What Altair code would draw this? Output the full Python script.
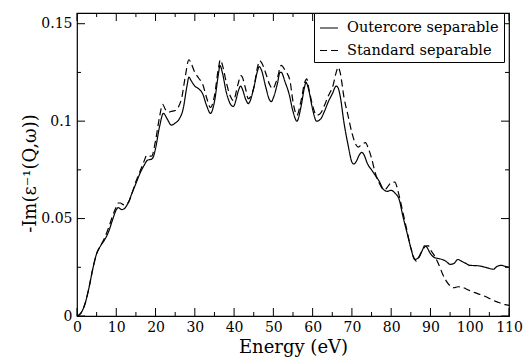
import altair as alt
import pandas as pd

# ---- data ----
energy_oc = [0, 1, 2, 3, 4, 5, 6, 7, 8, 9, 10, 10.5, 11.4, 12, 13, 14, 15, 16, 17, 18, 19, 19.5, 20,
             21, 22, 23, 24, 25, 26, 27, 28, 28.5, 29, 30, 31, 32, 33, 34, 35, 36, 36.4, 37, 38, 39,
             39.8, 40.5, 41, 41.7, 42, 43, 43.6, 44, 45, 46, 46.4, 47, 48, 49, 49.5, 50, 51, 51.7, 52,
             53, 54, 55, 56, 57, 58, 58.3, 59, 60, 61, 62, 63, 64, 65, 66, 66.5, 67, 68, 69, 70, 70.5,
             71, 72, 72.5, 73, 74, 75, 76, 77, 78, 79, 80, 81, 82, 83, 84, 85, 86, 87, 88, 88.5, 89,
             90, 91, 92, 93, 94, 95, 96, 97, 98, 99, 100, 102, 104, 106, 107, 108, 109, 110]
im_oc = [0, 0.0015, 0.006, 0.014, 0.024, 0.032, 0.036, 0.039, 0.043, 0.049, 0.0545, 0.0556, 0.0546,
         0.055, 0.058, 0.063, 0.068, 0.073, 0.077, 0.080, 0.0805, 0.082, 0.086,
         0.097, 0.104, 0.101, 0.098, 0.099, 0.101, 0.106, 0.118, 0.1226, 0.121, 0.118, 0.1166, 0.114,
         0.108, 0.104, 0.110, 0.124, 0.1286, 0.125, 0.115, 0.109,
         0.1075, 0.111, 0.115, 0.118, 0.117, 0.111, 0.109, 0.110, 0.117, 0.126, 0.128, 0.126, 0.118,
         0.111, 0.110, 0.112, 0.119, 0.125, 0.125,
         0.120, 0.114, 0.105, 0.100, 0.107, 0.118, 0.120, 0.116, 0.106, 0.100, 0.101, 0.105, 0.110,
         0.114, 0.118, 0.117, 0.113, 0.099, 0.088, 0.079, 0.078,
         0.079, 0.083, 0.084, 0.083, 0.078, 0.075, 0.072, 0.069, 0.065, 0.064, 0.0645, 0.063, 0.060,
         0.051, 0.043, 0.035, 0.029, 0.030, 0.034, 0.036, 0.0355,
         0.032, 0.030, 0.0295, 0.029, 0.028, 0.0265, 0.027, 0.029, 0.028, 0.027, 0.026, 0.0258, 0.025,
         0.024, 0.0255, 0.026, 0.0255, 0.025]

energy_std = [0, 1, 2, 3, 4, 5, 6, 7, 8, 9, 10, 10.5, 11, 12, 13, 14, 15, 16, 17, 17.8, 18.5, 19, 20,
              21, 21.8, 22.5, 23.2, 24, 25, 26, 26.7, 27.5, 28.5, 29, 30, 31, 32, 33, 34, 35, 36, 36.5,
              37, 38, 39, 39.8, 41, 41.7, 42, 43, 43.6, 44, 45, 46, 46.5, 47, 48, 49, 49.8, 51, 52, 53,
              54.2, 55, 56, 57, 58, 58.5, 59, 60, 61, 62, 63, 64, 64.5, 65, 66, 66.5, 67, 68, 69, 70,
              71, 71.6, 72.5, 73.5, 74, 75, 76, 77, 78, 78.5, 79, 80, 80.9, 82, 83, 84, 85, 86, 86.5,
              87, 88, 89, 89.5, 90, 91, 92, 93, 94, 95, 96, 97, 98, 99, 100, 102, 104, 106, 108, 109, 110]
im_std = [0, 0.0015, 0.006, 0.014, 0.024, 0.032, 0.036, 0.040, 0.045, 0.051, 0.056, 0.058, 0.058, 0.057,
          0.058, 0.063, 0.069, 0.074, 0.079, 0.0825, 0.082, 0.082, 0.090,
          0.102, 0.1086, 0.106, 0.1046, 0.105, 0.1055, 0.108, 0.1123, 0.122, 0.1315, 0.130, 0.125,
          0.122, 0.119, 0.112, 0.107, 0.113, 0.127, 0.1315,
          0.129, 0.120, 0.113, 0.1106, 0.119, 0.1234, 0.123, 0.116, 0.1115, 0.112, 0.117, 0.128, 0.131,
          0.130, 0.125, 0.119, 0.1166, 0.122, 0.1286, 0.126,
          0.121, 0.110, 0.103, 0.110, 0.120, 0.1217, 0.117, 0.108, 0.103, 0.104, 0.108, 0.113, 0.115,
          0.117, 0.125, 0.1277, 0.125, 0.112, 0.103, 0.094,
          0.088, 0.0867, 0.088, 0.089, 0.087, 0.081, 0.073, 0.068, 0.065, 0.065, 0.066, 0.0685, 0.0687,
          0.062, 0.053, 0.044, 0.035, 0.029, 0.028,
          0.030, 0.034, 0.036, 0.036, 0.034, 0.031, 0.027, 0.022, 0.018, 0.0155, 0.0145, 0.015, 0.0148,
          0.014, 0.013, 0.0115, 0.010, 0.008, 0.0065, 0.0058, 0.0055]

series_names = ["Outercore separable", "Standard separable"]

x_major = [0, 10, 20, 30, 40, 50, 60, 70, 80, 90, 100, 110]
x_minor = [5, 15, 25, 35, 45, 55, 65, 75, 85, 95, 105]
y_major = [0, 0.05, 0.1, 0.15]
y_minor = [0.025, 0.075, 0.125]

W, H = 432, 303
FONT = "DejaVu Serif"

df = pd.concat([
    pd.DataFrame({"energy": energy_oc, "im": im_oc, "series": series_names[0]}),
    pd.DataFrame({"energy": energy_std, "im": im_std, "series": series_names[1]}),
])

xs = alt.Scale(domain=[0, 110], nice=False, zero=False)
ys = alt.Scale(domain=[0, 0.1555], nice=False, zero=False)

lines = alt.Chart(df).mark_line(color="black", strokeWidth=1.2, interpolate="monotone").encode(
    x=alt.X("energy:Q", scale=xs, title="Energy (eV)",
            axis=alt.Axis(values=x_major, ticks=False, domain=False, grid=False,
                          labelFontSize=14, labelPadding=4, labelFont=FONT, labelColor="black",
                          titleFont=FONT, titleFontSize=18, titleFontWeight="normal",
                          titleColor="black", titleY=31, titleBaseline="middle", labelFlush=False)),
    y=alt.Y("im:Q", scale=ys, title="-Im(ε⁻¹(Q,ω))",
            axis=alt.Axis(values=y_major, ticks=False, domain=False, grid=False,
                          labelExpr="datum.value == 0 ? '0' : format(datum.value, '.2~f')",
                          labelFontSize=14, labelPadding=5, labelFont=FONT, labelColor="black",
                          titleFont=FONT, titleFontSize=18, titleFontWeight="normal",
                          titleColor="black",
                          titleX=-47, titleY=160, titleAngle=-90, titleAlign="center",
                          titleBaseline="middle", labelFlush=False)),
    strokeDash=alt.StrokeDash("series:N",
                              scale=alt.Scale(domain=series_names, range=[[1, 0], [7, 4]]),
                              legend=alt.Legend(title=None, orient="none", legendX=237, legendY=0,
                                                symbolType="stroke", symbolSize=324,
                                                symbolStrokeWidth=1.2, symbolStrokeColor="black",
                                                labelFont=FONT, labelFontSize=14.5, labelOffset=8,
                                                labelColor="black",
                                                labelLimit=400, padding=5, rowPadding=5.5,
                                                strokeColor="black", fillColor="white")),
)

maj_len, min_len = 8, 4

def xticks(vals, length):
    d = pd.DataFrame({"energy": vals})
    bottom = alt.Chart(d).mark_rule(color="black", strokeWidth=1).encode(
        x=alt.X("energy:Q", scale=xs, axis=None), y=alt.value(H), y2=alt.value(H - length))
    top = alt.Chart(d).mark_rule(color="black", strokeWidth=1).encode(
        x=alt.X("energy:Q", scale=xs, axis=None), y=alt.value(0), y2=alt.value(length))
    return [bottom, top]

def yticks(vals, length):
    d = pd.DataFrame({"im": vals})
    left = alt.Chart(d).mark_rule(color="black", strokeWidth=1).encode(
        y=alt.Y("im:Q", scale=ys, axis=None), x=alt.value(0), x2=alt.value(length))
    right = alt.Chart(d).mark_rule(color="black", strokeWidth=1).encode(
        y=alt.Y("im:Q", scale=ys, axis=None), x=alt.value(W), x2=alt.value(W - length))
    return [left, right]

layers = [lines] + xticks(x_major, maj_len) + xticks(x_minor, min_len) + \
    yticks(y_major, maj_len) + yticks(y_minor, min_len)

chart = alt.layer(*layers).resolve_axis(x="independent", y="independent").properties(
    width=W, height=H,
    autosize=alt.AutoSizeParams(type="none"),
    padding={"left": 77, "top": 13, "right": 22, "bottom": 42},
    background="white",
).configure(font=FONT).configure_view(stroke="black", strokeWidth=1.2)

chart.save("out.html", embed_options={"renderer": "svg", "actions": False})
